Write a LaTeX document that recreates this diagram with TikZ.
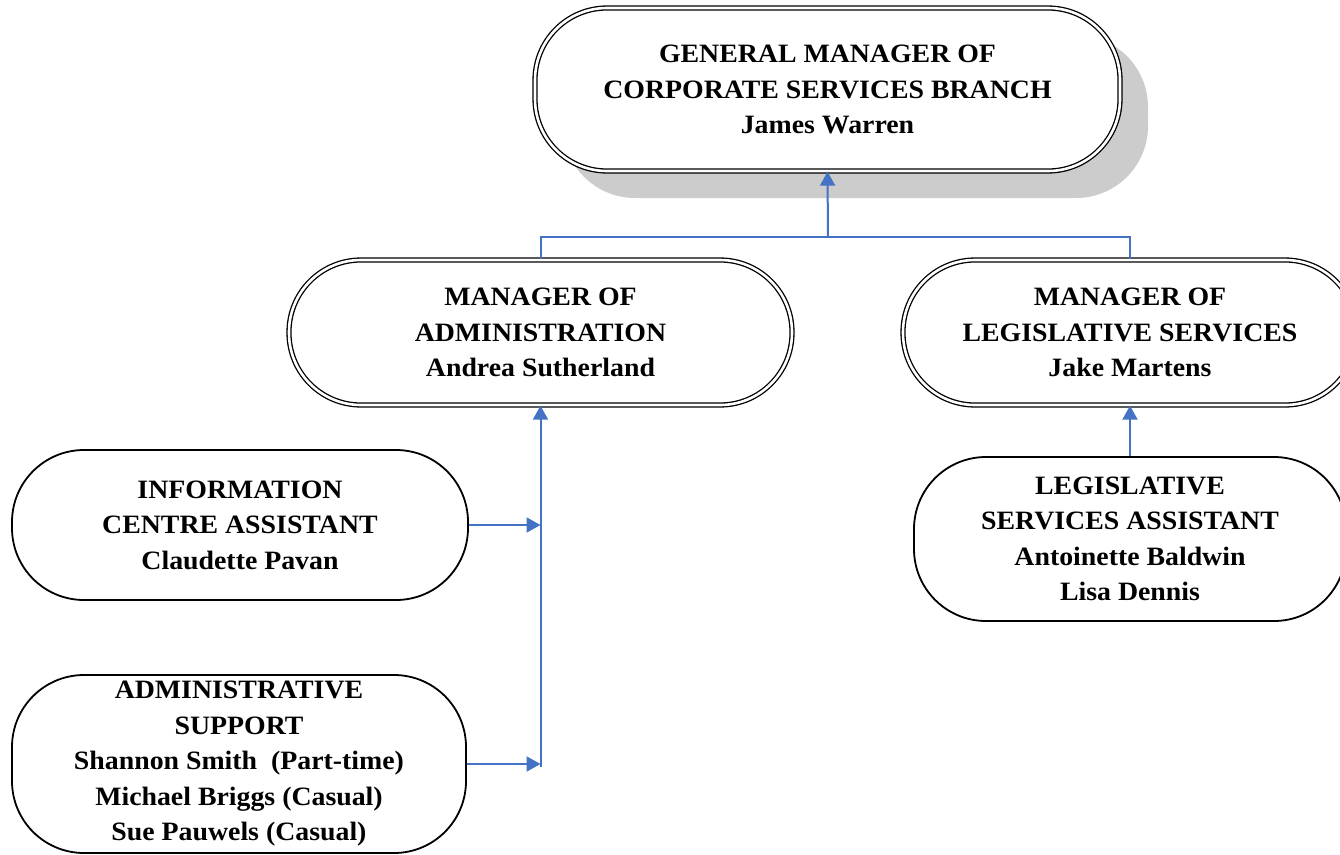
\documentclass[tikz,border=0pt]{standalone}
\usepackage{fontspec}
\setmainfont{Liberation Serif}[FakeStretch=1.05]
\usetikzlibrary{arrows.meta}
\definecolor{linkblue}{HTML}{4472C4}
\definecolor{shadowgray}{HTML}{CCCCCC}
\tikzset{
  txt/.style={align=center,font=\bfseries\fontsize{26.5}{35.5}\selectfont},
  box/.style={txt,draw=black,line width=1.8pt,fill=white,rounded corners=72pt,inner sep=0pt},
  dbox/.style={txt,draw=black,line width=1.3pt,double=white,double distance=2.6pt,rounded corners=72pt,inner sep=0pt},
  conn/.style={draw=linkblue,line width=2pt},
  arr/.style={conn,-{Triangle[length=14pt,width=15pt]}}
}
\begin{document}
\begin{tikzpicture}[x=1pt,y=-1pt]
\useasboundingbox (0,0) rectangle (1340,854);
% shadow of the top box
\fill[shadowgray,rounded corners=72pt] (563,35) rectangle (1148,198);
\node[dbox,fill=white,minimum width=585pt,minimum height=163pt] (top) at (827.5,89.5)
  {GENERAL MANAGER OF\\CORPORATE SERVICES BRANCH\\James Warren};
\node[dbox,minimum width=503pt,minimum height=145pt] (ml) at (540.5,332.5)
  {MANAGER OF\\ADMINISTRATION\\Andrea Sutherland};
\node[dbox,minimum width=454pt,minimum height=145pt] (mr) at (1130,332.5)
  {MANAGER OF\\LEGISLATIVE SERVICES\\Jake Martens};
\node[box,minimum width=456pt,minimum height=150pt] (info) at (240,525)
  {INFORMATION\\CENTRE ASSISTANT\\Claudette Pavan};
\node[box,minimum width=454pt,minimum height=178pt] (adm) at (239,764)
  {ADMINISTRATIVE\\SUPPORT\\Shannon Smith~~(Part-time)\\Michael Briggs (Casual)\\Sue Pauwels (Casual)};
\node[box,minimum width=432pt,minimum height=164pt] (la) at (1130,539)
  {LEGISLATIVE\\SERVICES ASSISTANT\\Antoinette Baldwin\\Lisa Dennis};
% connectors
\coordinate (j) at (828,237);
\coordinate (b) at (540.5,767);
\draw[conn] (ml.north) |- (j) -| (mr.north);
\draw[arr] (j) -- (top.south);
\draw[arr] (b) -- (ml.south);
\draw[arr] (info.east) -- (info.east -| b);
\draw[arr] (adm.east) -- (adm.east -| b);
\draw[arr] (la.north) -- (mr.south);
\end{tikzpicture}
\end{document}
